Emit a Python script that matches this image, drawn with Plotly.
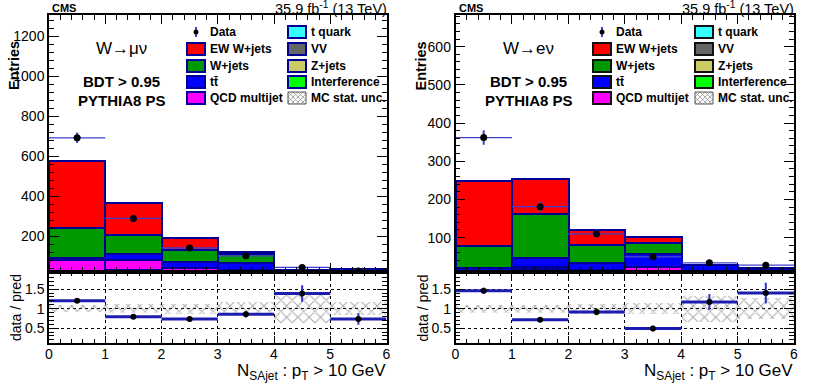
import numpy as np
import plotly.graph_objects as go

W, H = 814, 391

# ---- data ----
bin_centers = [0.5, 1.5, 2.5, 3.5, 4.5, 5.5]

# stack order bottom -> top
process_names = ["Interference", "Z+jets", "VV", "t quark", "QCD multijet",
                 "tt\u0304", "W+jets", "EW W+jets"]
process_colors = ["#00ff00", "#cccc66", "#666666", "#33ffff", "#ff00ff",
                  "#0000ff", "#009900", "#ff0000"]

# W -> mu nu
interference_mu = [1, 1, 1, 1, 1, 1]
zjets_mu = [3, 3, 2, 2, 2, 1]
vv_mu = [6, 5, 6, 5, 3, 3]
tquark_mu = [12, 20, 14, 12, 7, 6]
qcd_mu = [58, 51, 15, 10, 1, 1]
ttbar_mu = [12, 28, 34, 33, 15, 20]
wjets_mu = [146, 97, 60, 45, 1, 1]
ewk_mu = [337, 158, 58, 10, 1, 1]
data_mu = [691, 288, 140, 101, 43, 25]
mcunc_mu = [0.09, 0.12, 0.13, 0.16, 0.37, 0.17]

# W -> e nu
interference_e = [0.5, 0.5, 0.5, 0.5, 0.5, 0.5]
zjets_e = [1.5, 1.5, 1.5, 1.5, 1.5, 1]
vv_e = [3, 4, 4, 3, 3, 2.5]
tquark_e = [5, 13, 6, 4, 4, 4]
qcd_e = [2, 3, 3, 15, 1, 1]
ttbar_e = [8, 24, 19, 33, 18, 10]
wjets_e = [59, 115, 47, 28, 0.5, 0.5]
ewk_e = [169, 92, 39, 17, 0.5, 0.5]
data_e = [362, 181, 110, 50, 34, 28]
mcunc_e = [0.1, 0.1, 0.13, 0.14, 0.33, 0.27]

legend_col1 = ["Data", "EW W+jets", "W+jets", "tt\u0304", "QCD multijet"]
legend_col2 = ["t quark", "VV", "Z+jets", "Interference", "MC stat. unc."]
legend_colors1 = [None, "#ff0000", "#009900", "#0000ff", "#ff00ff"]
legend_colors2 = ["#33ffff", "#666666", "#cccc66", "#00ff00", None]

FONT = "Liberation Sans, Arial, Helvetica, sans-serif"
NAVY = "#000099"


def px(x):
    return x / W


def py(y):
    return 1 - y / H


fig = go.Figure()

panels = [
    dict(stack=[interference_mu, zjets_mu, vv_mu, tquark_mu, qcd_mu, ttbar_mu, wjets_mu, ewk_mu],
         data=data_mu, unc=mcunc_mu, x0=49, x1=386.5, yr=[20, 1305], ydt=200, ymin=40,
         channel="W\u2192\u03bc\u03bd", ax=["x", "y", "x2", "y2"], legx=187, legx2=288,
         legline=NAVY),
    dict(stack=[interference_e, zjets_e, vv_e, tquark_e, qcd_e, ttbar_e, wjets_e, ewk_e],
         data=data_e, unc=mcunc_e, x0=455.5, x1=794, yr=[10, 683], ydt=100, ymin=20,
         channel="W\u2192e\u03bd", ax=["x3", "y3", "x4", "y4"], legx=593, legx2=695,
         legline="#111111"),
]

shapes = []
annotations = []

for k, p in enumerate(panels):
    xa, ya, xr, yrr = p["ax"]
    total = np.sum(np.array(p["stack"], dtype=float), axis=0)
    data = np.array(p["data"], dtype=float)
    err = np.sqrt(data)
    ratio = data / total
    rerr = ratio / np.sqrt(data)

    for name, col, vals in zip(process_names, process_colors, p["stack"]):
        fig.add_trace(go.Bar(x=bin_centers, y=vals, width=1, name=name, showlegend=False,
                             marker=dict(color=col, line=dict(color=NAVY, width=2)),
                             xaxis=xa, yaxis=ya))

    fig.add_trace(go.Scatter(x=bin_centers, y=data, mode="markers", showlegend=False,
                             marker=dict(color="black", size=7),
                             error_x=dict(type="constant", value=0.5, color="#4040d0",
                                          thickness=1.3, width=0),
                             error_y=dict(type="data", array=err, color="#4040d0",
                                          thickness=2, width=0),
                             xaxis=xa, yaxis=ya))

    unc = np.array(p["unc"])
    fig.add_trace(go.Bar(x=bin_centers, y=2 * unc, base=1 - unc, width=1, showlegend=False,
                         marker=dict(color="rgba(0,0,0,0)", line=dict(width=0),
                                     pattern=dict(shape="x", fgcolor="#5a5a5a",
                                                  bgcolor="rgba(0,0,0,0)", size=8,
                                                  solidity=0.25)),
                         xaxis=xr, yaxis=yrr))
    fig.add_trace(go.Scatter(x=bin_centers, y=ratio, mode="markers", showlegend=False,
                             marker=dict(color="black", size=6),
                             error_x=dict(type="constant", value=0.5, color="#1c1cb0",
                                          thickness=3, width=0),
                             error_y=dict(type="data", array=rerr, color="#3030c8",
                                          thickness=2, width=0),
                             xaxis=xr, yaxis=yrr))

    common = dict(showline=True, linecolor="black", linewidth=1.5, mirror="allticks",
                  ticks="inside", tickcolor="black", tickwidth=1, zeroline=False,
                  automargin=False, tickfont=dict(family=FONT, size=14, color="black"))
    n = 2 * k + 1
    xname_u = "xaxis" if n == 1 else "xaxis%d" % n
    yname_u = "yaxis" if n == 1 else "yaxis%d" % n
    xname_r = "xaxis%d" % (n + 1)
    yname_r = "yaxis%d" % (n + 1)
    dom_x = [px(p["x0"]), px(p["x1"])]
    fig.update_layout({
        xname_u: dict(common, domain=dom_x, range=[0, 6], dtick=1, tick0=0, ticklen=9,
                      showticklabels=False, showgrid=False, anchor=ya,
                      minor=dict(ticks="inside", ticklen=5, dtick=0.2, tick0=0, tickcolor="black")),
        yname_u: dict(common, domain=[py(272), py(15)], range=p["yr"], dtick=p["ydt"], tick0=0,
                      ticklen=10, showgrid=False, anchor=xa,
                      minor=dict(ticks="inside", ticklen=5, dtick=p["ymin"], tick0=0, tickcolor="black")),
        xname_r: dict(common, domain=dom_x, range=[0, 6], dtick=1, tick0=0, ticklen=7,
                      ticklabelstandoff=-3,
                      showgrid=True, griddash="dot", gridcolor="black", gridwidth=1, anchor=yrr,
                      minor=dict(ticks="inside", ticklen=4, dtick=0.2, tick0=0, tickcolor="black")),
        yname_r: dict(common, domain=[py(343), py(272)], range=[0.12, 1.94], dtick=0.5, tick0=0,
                      ticklen=10, showgrid=True, griddash="dot", gridcolor="black", gridwidth=1,
                      anchor=xr,
                      minor=dict(ticks="inside", ticklen=5, dtick=0.1, tick0=0, tickcolor="black")),
    })

    x0, x1 = p["x0"], p["x1"]
    cx = x0 + 73
    annotations += [
        dict(text="<b>CMS</b>", x=px(x0 + 1), y=py(8), xanchor="left", yanchor="middle",
             font=dict(size=11)),
        dict(text="35.9 fb<sup>-1</sup> (13 TeV)", x=px(x1 + 2), y=py(8), xanchor="right",
             yanchor="middle", font=dict(size=14.5)),
        dict(text=p["channel"], x=px(cx), y=py(48), xanchor="center", yanchor="middle",
             font=dict(size=17)),
        dict(text="<b>BDT > 0.95</b>", x=px(cx), y=py(81), xanchor="center", yanchor="middle",
             font=dict(size=15)),
        dict(text="<b>PYTHIA8 PS</b>", x=px(cx), y=py(100.5), xanchor="center", yanchor="middle",
             font=dict(size=15)),
        dict(text="<b>Entries</b>", x=px(x0 - 35), y=py(66), textangle=-90, xanchor="center",
             yanchor="middle", font=dict(size=14.5)),
        dict(text="data / pred", x=px(x0 - 33), y=py(308), textangle=-90, xanchor="center",
             yanchor="middle", font=dict(size=14)),
        dict(text="N<sub>SAjet</sub> : p<sub>T</sub> > 10 GeV", x=px(x1 + 1), y=py(372),
             xanchor="right", yanchor="middle", font=dict(size=17)),
    ]

    # legend (two columns)
    rows = [32, 49, 66, 82, 98]
    for col_x, names, cols in [(p["legx"], legend_col1, legend_colors1),
                               (p["legx2"], legend_col2, legend_colors2)]:
        for yy, name, c in zip(rows, names, cols):
            bx0, bx1, by0, by1 = col_x, col_x + 18, yy - 6, yy + 6
            if name == "Data":
                shapes.append(dict(type="line", xref="paper", yref="paper",
                                   x0=px(col_x + 9), x1=px(col_x + 9), y0=py(yy - 5), y1=py(yy + 5),
                                   line=dict(color="#4040d0", width=2)))
                shapes.append(dict(type="circle", xref="paper", yref="paper",
                                   x0=px(col_x + 6.5), x1=px(col_x + 11.5), y0=py(yy + 2.5),
                                   y1=py(yy - 2.5), fillcolor="black", line=dict(width=0)))
            elif c is None:
                # hatched box
                segs = []
                s = 5
                for cc in np.arange(-20, 40, s):
                    for sign in (1, -1):
                        pts = []
                        for t in np.linspace(0, 30, 121):
                            if sign == 1:
                                u, v = t, t - cc
                            else:
                                u, v = t, cc - t
                            if 0 <= u <= 18 and 0 <= v <= 12:
                                pts.append((u, v))
                        if len(pts) > 1:
                            (ua, va), (ub, vb) = pts[0], pts[-1]
                            segs.append("M%f,%f L%f,%f" % (px(bx0 + ua), py(by0 + va),
                                                         px(bx0 + ub), py(by0 + vb)))
                shapes.append(dict(type="path", xref="paper", yref="paper", path=" ".join(segs),
                                   line=dict(color="#999999", width=0.8)))
                shapes.append(dict(type="rect", xref="paper", yref="paper",
                                   x0=px(bx0), x1=px(bx1), y0=py(by1), y1=py(by0),
                                   line=dict(color="#555555", width=1)))
            else:
                shapes.append(dict(type="rect", xref="paper", yref="paper",
                                   x0=px(bx0), x1=px(bx1), y0=py(by1), y1=py(by0),
                                   fillcolor=c, line=dict(color=p["legline"], width=2)))
            annotations.append(dict(text="<b>%s</b>" % name, x=px(col_x + 21), y=py(yy),
                                    xanchor="left", yanchor="middle", font=dict(size=12)))

for a in annotations:
    a.update(xref="paper", yref="paper", showarrow=False)
    a["font"] = dict(family=FONT, color="black", **a.get("font", {}))

fig.update_layout(width=W, height=H, margin=dict(l=0, r=0, t=0, b=0),
                  paper_bgcolor="white", plot_bgcolor="white", barmode="stack",
                  bargap=0, showlegend=False, shapes=shapes, annotations=annotations,
                  font=dict(family=FONT, color="black"))

# the page's default body margin would push the figure 8 px down and right
fig.write_html("out.html", config={"displayModeBar": False},
               post_script="document.body.style.margin = '0';")
